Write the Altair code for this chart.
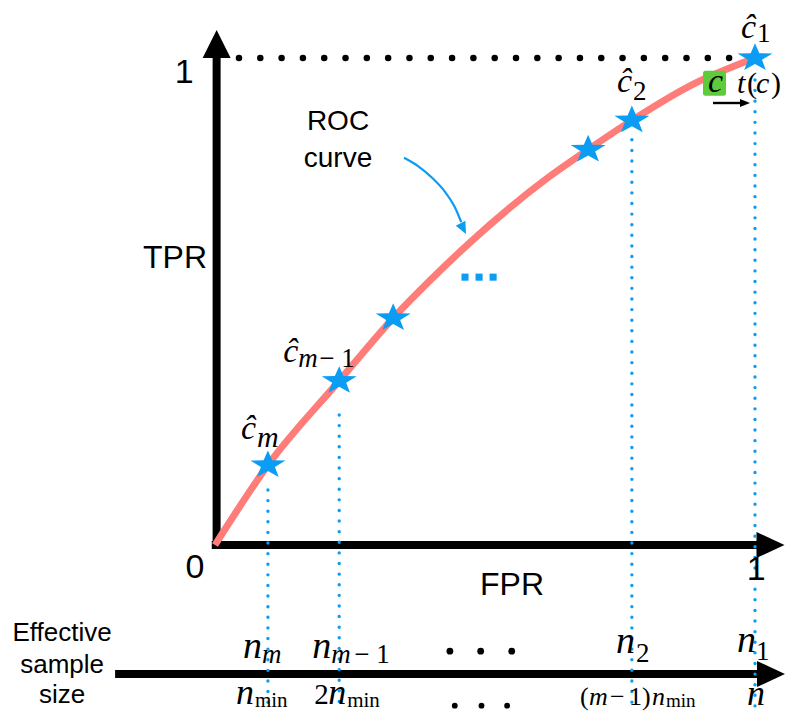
import math
import altair as alt
import pandas as pd

# ---------------- data (FPR / TPR units) ----------------
curve_fpr = [0.0, 0.098, 0.230, 0.330, 0.398, 0.472, 0.615, 0.691, 0.772, 0.885, 1.0]
curve_tpr = [0.0, 0.164, 0.337, 0.466, 0.543, 0.621, 0.753, 0.812, 0.872, 0.946, 1.0]

star_fpr = [0.098, 0.230, 0.330, 0.691, 0.772, 1.0]
star_tpr = [0.164, 0.337, 0.466, 0.812, 0.872, 1.0]

drop_fpr = [0.098, 0.230, 0.772, 1.0]       # c_m, c_{m-1}, c_2, c_1
drop_top = [0.113, 0.267, 0.832, 0.955]
drop_bottom = -0.343

sample_axis_tpr = -0.265
sample_axis_start = -0.185
sample_axis_end = 1.013
sample_head_fpr = 1.0296

x_axis_end = 1.0074
x_head_fpr = 1.0287

dots_top_fpr = [0.435, 0.492, 0.5495]
dots_top_tpr = -0.218
dots_bot_fpr = [0.444, 0.4935, 0.541]
dots_bot_tpr = -0.330

ellipsis_fpr = [0.463, 0.489, 0.515]
ellipsis_tpr = 0.550

roc_arrow_fpr = [0.350, 0.376, 0.402, 0.426, 0.444, 0.456]
roc_arrow_tpr = [0.795, 0.778, 0.754, 0.725, 0.694, 0.663]
roc_arrow_head = [0.4598, 0.6497]

c_point = [0.925, 0.948]
tc_arrow_fpr = [0.9222, 0.975]
tc_arrow_tpr = 0.9076
tc_head_fpr = 0.9815

top_dots_fpr = [0.0444, 0.953]

BLUE = "#0B9CF4"
RED = "#FF7C78"
GREEN = "#5DCB3B"

XS = alt.Scale(domain=[-0.38333, 1.05556], nice=False, zero=False)
YS = alt.Scale(domain=[-0.34908, 1.10267], nice=False, zero=False)


def X():
    return alt.X("fpr:Q", scale=XS, axis=None)


def Y():
    return alt.Y("tpr:Q", scale=YS, axis=None)


def rule(fpr, tpr, fpr2, tpr2, **kw):
    df = pd.DataFrame({"fpr": fpr, "tpr": tpr, "fpr2": fpr2, "tpr2": tpr2})
    return alt.Chart(df).mark_rule(**kw).encode(x=X(), y=Y(), x2="fpr2:Q", y2="tpr2:Q")


def pts(fpr, tpr, shape, size, color, **kw):
    df = pd.DataFrame({"fpr": fpr, "tpr": tpr})
    return alt.Chart(df).mark_point(shape=shape, size=size, filled=True, color=color,
                                    opacity=1, strokeWidth=0, **kw).encode(x=X(), y=Y())


FONTS = {"it": ("Liberation Serif", "italic"), "up": ("Liberation Serif", "normal"),
         "sans": ("Liberation Sans", "normal")}


def txt(t, ax, ay, dx, dy, size, style, align="left", color="black"):
    font, fs = FONTS[style]
    df = pd.DataFrame({"fpr": [ax], "tpr": [ay], "t": [t]})
    return alt.Chart(df).mark_text(align=align, baseline="alphabetic", dx=dx, dy=dy,
                                   fontSize=size, font=font, fontStyle=fs,
                                   color=color).encode(x=X(), y=Y(), text="t:N")


# shapes
def star_path(inner=0.40, squash=0.8):
    p = []
    for k in range(10):
        a = math.radians(-90 + 36 * k)
        r = 1.0 if k % 2 == 0 else inner
        p.append(f"{r*math.cos(a):.4f},{r*math.sin(a)*squash:.4f}")
    return "M" + " L".join(p) + " Z"


STAR = star_path()
TRI_UP = "M0,-1 L1,1 L-1,1 Z"
TRI_RIGHT = "M1,0 L-1,-0.93 L-1,0.93 Z"
TRI_DOWN = "M0,1 L-0.9,-1 L0.9,-1 Z"
TRI_SMALL_RIGHT = "M1,0 L-1,-0.8 L-1,0.8 Z"
ROUND_BOX = ("M-0.72,-1 L0.72,-1 Q0.92,-1 0.92,-0.8 L0.92,0.8 Q0.92,1 0.72,1 "
             "L-0.72,1 Q-0.92,1 -0.92,0.8 L-0.92,-0.8 Q-0.92,-1 -0.72,-1 Z")

layers = []

# main axes
layers.append(rule([0.003], [-0.008], [0.003], [1.004], color="black", strokeWidth=8))
layers.append(rule([-0.006], [0.0], [x_axis_end], [0.0], color="black", strokeWidth=8))
layers.append(pts([0.003], [1.0287], TRI_UP, 784, "black"))
layers.append(pts([x_head_fpr], [0.0], TRI_RIGHT, 784, "black"))

# effective sample size axis
layers.append(rule([sample_axis_start], [sample_axis_tpr], [sample_axis_end], [sample_axis_tpr],
                   color="black", strokeWidth=8))
layers.append(pts([sample_head_fpr], [sample_axis_tpr], TRI_RIGHT, 784, "black"))

# dotted line at TPR = 1
layers.append(rule([top_dots_fpr[0]], [1.0], [top_dots_fpr[1]], [1.0], color="black",
                   strokeWidth=6.5, strokeDash=[0.01, 21.3], strokeCap="round"))

# blue dotted drop lines
layers.append(rule(drop_fpr, drop_top, drop_fpr, [drop_bottom] * len(drop_fpr), color=BLUE,
                   strokeWidth=3.4, strokeDash=[0.01, 10.6], strokeCap="round"))

# ROC curve
curve_df = pd.DataFrame({"fpr": curve_fpr, "tpr": curve_tpr})
layers.append(alt.Chart(curve_df).mark_line(color=RED, strokeWidth=7, interpolate="monotone")
              .encode(x=X(), y=Y()))

# stars
layers.append(pts(star_fpr, star_tpr, STAR, 1354, BLUE))

# ROC label arrow
arrow_df = pd.DataFrame({"fpr": roc_arrow_fpr, "tpr": roc_arrow_tpr})
layers.append(alt.Chart(arrow_df).mark_line(color=BLUE, strokeWidth=2.2, interpolate="monotone")
              .encode(x=X(), y=Y()))
layers.append(pts([roc_arrow_head[0]], [roc_arrow_head[1]], TRI_DOWN, 144, BLUE, angle=333))

# blue ellipsis
layers.append(pts(ellipsis_fpr, [ellipsis_tpr] * 3, "square", 50, BLUE))

# bottom-axis black dots
layers.append(pts(dots_top_fpr, [dots_top_tpr] * 3, "circle", 46, "black"))
layers.append(pts(dots_bot_fpr, [dots_bot_tpr] * 3, "circle", 34, "black"))

# threshold c box and t(c) arrow
layers.append(pts([c_point[0]], [c_point[1]], ROUND_BOX, 625, GREEN))
layers.append(rule([tc_arrow_fpr[0]], [tc_arrow_tpr], [tc_arrow_fpr[1]], [tc_arrow_tpr],
                   color="black", strokeWidth=2.4))
layers.append(pts([tc_head_fpr], [tc_arrow_tpr], TRI_SMALL_RIGHT, 100, "black"))

# ---------------- text ----------------
cx, cy = c_point
layers += [
    txt("c", cx, cy, 1, 8.5, 34, "it", align="center"),
    txt("t", cx, cy, 22.5, 9.7, 30, "it"),
    txt("(", cx, cy, 32.5, 9.7, 30, "up"),
    txt("c", cx, cy, 41.5, 9.7, 30, "it"),
    txt(")", cx, cy, 56.5, 9.7, 30, "up"),
]

# star labels
s = list(zip(star_fpr, star_tpr))
layers += [
    txt("ĉ", *s[0], -27, -26, 34, "it"),
    txt("m", *s[0], -11, -18, 30, "it"),
    txt("ĉ", *s[1], -56, -19, 34, "it"),
    txt("m", *s[1], -41, -14, 27, "it"),
    txt("− 1", *s[1], -20, -14, 27, "up"),
    txt("ĉ", *s[4], -15, -28, 34, "it"),
    txt("2", *s[4], 1, -20, 27, "up"),
    txt("ĉ", *s[5], -14, -20, 34, "it"),
    txt("1", *s[5], 2, -16, 27, "up"),
]

# effective sample size labels
a = sample_axis_tpr
d = drop_fpr
layers += [
    txt("n", d[0], a, -25, -16, 38, "it"),
    txt("m", d[0], a, -6, -11, 27, "it"),
    txt("n", d[1], a, -27, -16, 38, "it"),
    txt("m", d[1], a, -8, -11, 27, "it"),
    txt("− 1", d[1], a, 15, -11, 27, "up"),
    txt("n", d[2], a, -16, -21, 38, "it"),
    txt("2", d[2], a, 4, -12, 27, "up"),
    txt("n", d[3], a, -18, -22, 38, "it"),
    txt("1", d[3], a, 1, -14, 27, "up"),
    # lower row
    txt("n", d[0], a, -32, 30, 36, "it"),
    txt("min", d[0], a, -13, 33, 21, "up"),
    txt("2", d[1], a, -25, 30, 29, "up"),
    txt("n", d[1], a, -11, 30, 36, "it"),
    txt("min", d[1], a, 8, 33, 21, "up"),
    txt("(", d[2], a, -52, 31, 26, "up"),
    txt("m", d[2], a, -43, 31, 26, "it"),
    txt("−", d[2], a, -22, 31, 26, "up"),
    txt("1)", d[2], a, -3, 31, 26, "up"),
    txt("n", d[2], a, 20, 31, 26, "it"),
    txt("min", d[2], a, 34, 33, 19, "up"),
    txt("n", d[3], a, -8, 31, 36, "it"),
]

# sans labels
layers += [
    txt("0", 0.0, 0.0, -20, 33, 34, "sans", align="center"),
    txt("1", 0.0, 1.0, -30.7, 25, 34, "sans", align="center"),
    txt("1", 1.0, 0.0, 1.3, 35, 34, "sans", align="center"),
    txt("TPR", 0.0, 0.5, -40, -33, 32, "sans", align="center"),
    txt("FPR", 0.5, 0.0, 27, 50, 32, "sans", align="center"),
    txt("ROC", roc_arrow_fpr[0], roc_arrow_tpr[0], -66, -28, 28, "sans", align="center"),
    txt("curve", roc_arrow_fpr[0], roc_arrow_tpr[0], -66, 9, 28, "sans", align="center"),
    txt("Effective", sample_axis_start, a, -53, -33, 26, "sans", align="center"),
    txt("sample", sample_axis_start, a, -53, -1, 26, "sans", align="center"),
    txt("size", sample_axis_start, a, -53, 29, 26, "sans", align="center"),
]

chart = alt.layer(*layers).properties(
    width=777, height=707, padding=0,
    autosize=alt.AutoSizeParams(type="none"),
    background="white",
).configure_view(stroke=None)

chart.save("out.html", embed_options={"renderer": "svg", "actions": False})
